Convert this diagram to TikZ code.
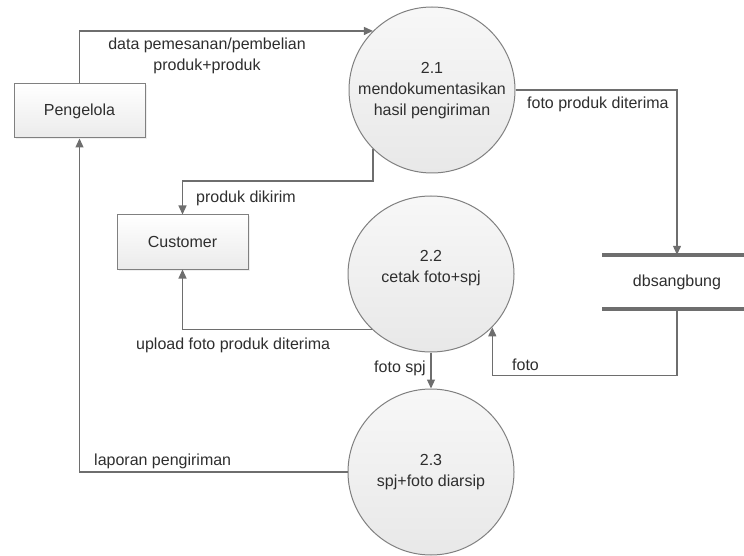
\documentclass[tikz,border=0pt]{standalone}
\usepackage{fontspec}
\setmainfont{Liberation Sans}
\usetikzlibrary{arrows.meta,shapes.geometric,shadows}
\definecolor{lin}{HTML}{6E6E6E}
\definecolor{bord}{HTML}{808080}
\definecolor{txtc}{HTML}{2E2E2E}
\begin{document}
\begin{tikzpicture}[x=1pt,y=-1pt,
  font=\fontsize{16}{21}\selectfont, text=txtc,
  flow/.style={draw=lin, line width=1.2pt, -{Triangle[length=9pt,width=8pt]}},
  ent/.style={rectangle, draw=bord, line width=1pt, top color=white, bottom color=black!8,
    minimum width=131pt, minimum height=54pt, inner sep=0pt,
    drop shadow={shadow xshift=1.5pt, shadow yshift=-1.5pt, fill=black!12}},
  proc/.style={circle, draw=bord, line width=1pt, top color=black!3, bottom color=black!9,
    minimum size=166pt, inner sep=0pt},
  proce/.style={ellipse, draw=bord, line width=1pt, top color=black!3, bottom color=black!9,
    minimum width=166pt, minimum height=156pt, inner sep=0pt},
  lbl/.style={inner sep=0pt, align=center},
  dbline/.style={draw=lin, line width=4pt}]
\useasboundingbox (0,0) rectangle (744,556);

% entities
\node[ent] (peng) at (79.5,111) {Pengelola};
\node[ent] (cust) at (182.5,242) {Customer};

% processes
\node[proc] (p1) at (432,90) {};
\node[lbl] at (432,91) {2.1\\mendokumentasikan\\hasil pengiriman};
\node[proce] (p2) at (431,274) {};
\node[lbl] at (431,268) {2.2\\cetak foto+spj};
\node[proc] (p3) at (431,472) {};
\node[lbl] at (431,472) {2.3\\spj+foto diarsip};

% data store
\node[lbl, minimum width=130pt, minimum height=54pt] (db) at (677,282) {dbsangbung};
\draw[dbline] (602,255) -- (744,255);
\draw[dbline] (602,309) -- (744,309);

% flows
\draw[flow] (peng.north) |- (p1.135.7);
\draw[flow] (p1.225) -- ++(0,32) -| (cust.north);
\draw[flow] (p2.223) -| (cust.south);
\draw[flow] (p1.east) -| (db.north);
\draw[flow] (db.south) -- ++(0,66) -| (p2.319);
\draw[flow] (p2.south) -- (p3.north);
\draw[flow] (p3.west) -| (peng.south);

% flow labels
\node[lbl] at (207,56) {data pemesanan/pembelian\\produk+produk};
\node[lbl, anchor=west] at (196,198) {produk dikirim};
\node[lbl, anchor=west] at (527,104) {foto produk diterima};
\node[lbl, anchor=west] at (136,345) {upload foto produk diterima};
\node[lbl, anchor=east] at (426,368) {foto spj};
\node[lbl, anchor=west] at (512,365) {foto};
\node[lbl, anchor=west] at (94,461) {laporan pengiriman};
\end{tikzpicture}
\end{document}
